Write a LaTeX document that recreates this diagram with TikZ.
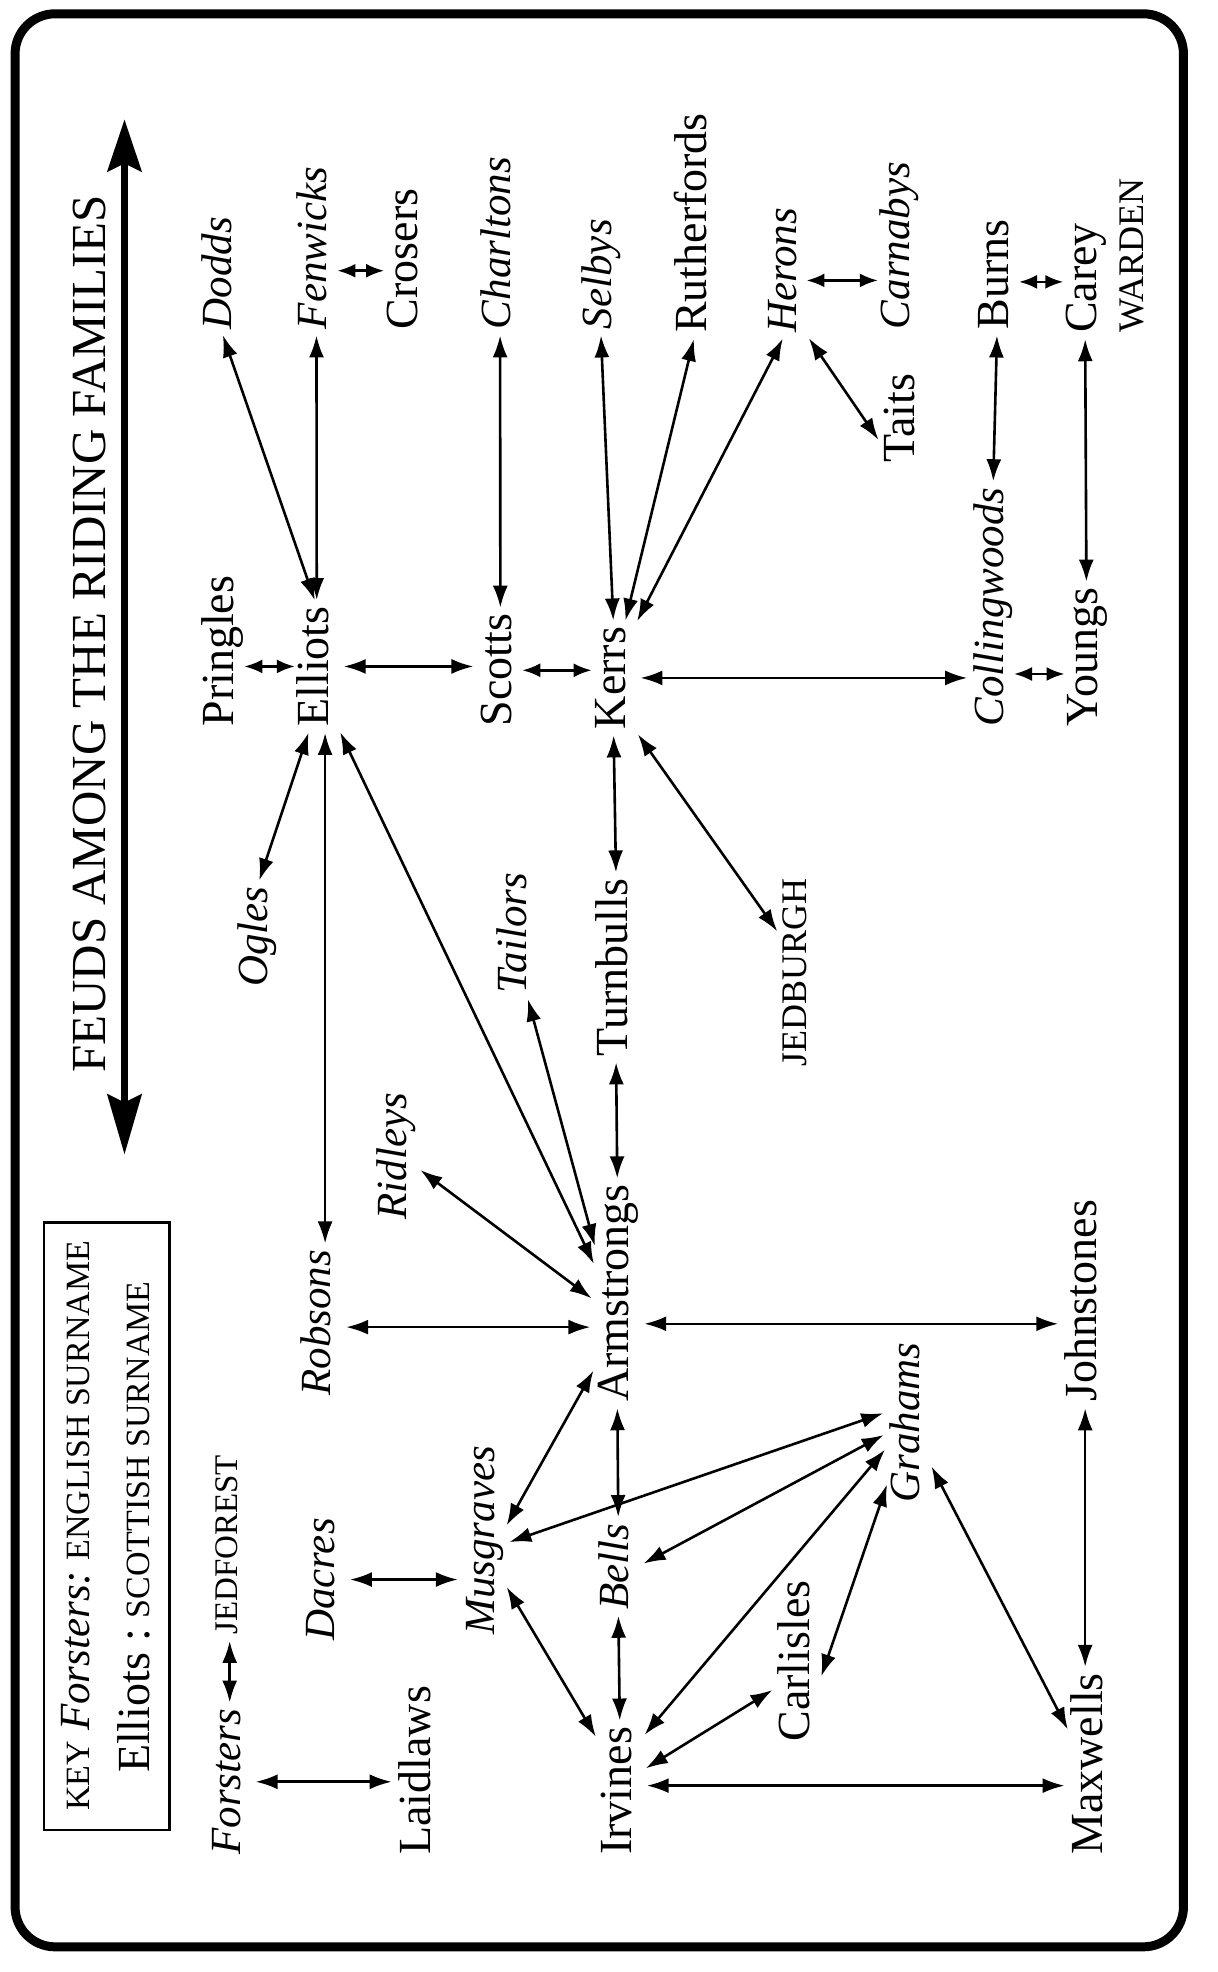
\documentclass[tikz,border=0pt]{standalone}
\usepackage{fontspec}
\setmainfont{Liberation Serif}
\usetikzlibrary{arrows.meta,calc}
\newcommand{\kcap}{\fontsize{17}{20}\selectfont}
\begin{document}
\begin{tikzpicture}[
  sco/.style={anchor=base west, inner sep=0pt, font=\fontsize{23}{26}\selectfont, text height=16pt, text depth=4.5pt},
  eng/.style={anchor=base west, inner sep=0pt, font=\fontsize{21.5}{24}\selectfont\itshape, text height=15pt, text depth=4.5pt},
  capn/.style={anchor=base west, inner sep=0pt, font=\fontsize{18}{20}\selectfont, text height=12.5pt, text depth=0pt},
  arr/.style={{Latex[length=11pt,width=7.5pt]}-{Latex[length=11pt,width=7.5pt]}, line width=1.3pt, shorten <=3pt, shorten >=3pt},
  sarr/.style={{Latex[length=9pt,width=7pt]}-{Latex[length=9pt,width=7pt]}, line width=1.3pt, shorten <=0.5pt, shorten >=0.5pt}
]
\begin{scope}[x=0.629pt, y=0.629pt, rotate=90, transform shape]
\useasboundingbox (0,0) rectangle (1568,968);
% frame
\draw[line width=4.5pt, rounded corners=20pt] (20,27) rectangle (1557,956);
% title
\node[anchor=base, inner sep=0pt, font=\fontsize{24.5}{28}\selectfont] (title) at (1064,884) {FEUDS AMONG THE RIDING FAMILIES};
\coordinate (ta) at (650,869);
\coordinate (tb) at (1473,869);
\draw[line width=3.5pt, {Stealth[length=30pt,width=17pt,inset=4pt]}-{Stealth[length=26pt,width=17pt,inset=4pt]}] (ta) -- (tb);
% key
\draw[line width=1.3pt] (113,833) rectangle (596,933);
\node[anchor=base west, inner sep=0pt] (key1) at (128,897) {{\kcap KEY}\enspace{\fontsize{21.5}{24}\selectfont\itshape Forsters:}\enspace{\kcap ENGLISH SURNAME}};
\node[anchor=base west, inner sep=0pt] (key2) at (158,849) {{\fontsize{23}{26}\selectfont Elliots :}\enspace{\kcap SCOTTISH SURNAME}};
% top row
\node[eng] (dodds) at (1306,784) {Dodds};
\node[eng] (fenwicks) at (1306,708) {Fenwicks};
\node[sco] (crosers) at (1306,636) {Crosers};
\node[eng] (charltons) at (1306,562) {Charltons};
\node[eng] (selbys) at (1306,482) {Selbys};
\node[sco] (rutherfords) at (1303,406) {Rutherfords};
\node[eng] (herons) at (1303,335) {Herons};
\node[eng] (carnabys) at (1306,245) {Carnabys};
\node[sco] (burns) at (1306,166) {Burns};
\node[sco] (carey) at (1303,96) {Carey};
\node[capn] (warden) at (1303,59) {WARDEN};
\node[sco] (taits) at (1200,241) {Taits};
% second row
\node[sco] (pringles) at (990,782) {Pringles};
\node[sco] (elliots) at (990,707) {Elliots};
\node[sco] (scotts) at (990,561) {Scotts};
\node[sco] (kerrs) at (988,471) {Kerrs};
\node[eng] (collingwoods) at (990,170) {Collingwoods};
\node[sco] (youngs) at (990,95) {Youngs};
% middle
\node[eng] (ogles) at (783,755) {Ogles};
\node[eng] (tailors) at (778,549) {Tailors};
\node[sco] (turnbulls) at (728,469) {Turnbulls};
\node[capn] (jedburgh) at (720,327) {JEDBURGH};
\node[eng] (ridleys) at (598,645) {Ridleys};
\node[sco] (armstrongs) at (453,468) {Armstrongs};
\node[eng] (robsons) at (458,705) {Robsons};
\node[sco] (johnstones) at (453,96) {Johnstones};
\node[eng] (grahams) at (373,237) {Grahams};
\node[eng] (dacres) at (263,702) {Dacres};
\node[eng] (musgraves) at (268,575) {Musgraves};
\node[eng] (bells) at (288,468) {Bells};
\node[capn, font=\fontsize{16.5}{19}\selectfont] (jedforest) at (268,779) {JEDFOREST};
\node[eng] (forsters) at (93,777) {Forsters};
\node[sco] (laidlaws) at (93,626) {Laidlaws};
\node[sco] (carlisles) at (183,324) {Carlisles};
\node[sco] (irvines) at (93,466) {Irvines};
\node[sco] (maxwells) at (93,91) {Maxwells};
% helper coordinates
\coordinate (cy) at ($(youngs.north west)!0.38!(youngs.north east)$);
\coordinate (cf) at ($(fenwicks.south west)!0.36!(fenwicks.south east)$);
\coordinate (k1) at ($(kerrs.east)!0.5!(kerrs.south east)$);
\coordinate (ch) at ($(herons.south west)!0.42!(herons.south east)$);
\coordinate (ct) at ($(taits.north west)!0.2!(taits.north east)$);
\coordinate (cb) at ($(burns.south west)!0.43!(burns.south east)$);
\coordinate (eo) at ($(elliots.west)!0.3!(elliots.north west)$);
\coordinate (er) at ($(elliots.west)!0.4!(elliots.south west)$);
\coordinate (a1) at ($(armstrongs.north west)!0.61!(armstrongs.north east)$);
\coordinate (cj) at ($(jedburgh.north west)!0.69!(jedburgh.north east)$);
\coordinate (a2) at ($(armstrongs.north west)!0.69!(armstrongs.north east)$);
\coordinate (tl) at ($(tailors.west)!0.5!(tailors.south west)$);
\coordinate (rd) at ($(ridleys.south west)!0.42!(ridleys.south east)$);
\coordinate (a3) at ($(armstrongs.north west)!0.46!(armstrongs.north east)$);
\coordinate (rb) at ($(robsons.south west)!0.47!(robsons.south east)$);
\coordinate (as) at ($(armstrongs.south west)!0.36!(armstrongs.south east)$);
\coordinate (a4) at ($(armstrongs.north west)!0.17!(armstrongs.north east)$);
\coordinate (m1) at ($(musgraves.south west)!0.55!(musgraves.south east)$);
\coordinate (m2) at ($(musgraves.south west)!0.48!(musgraves.south east)$);
\coordinate (g1) at ($(grahams.north west)!0.57!(grahams.north east)$);
\coordinate (g2) at ($(grahams.north west)!0.44!(grahams.north east)$);
\coordinate (m3) at ($(musgraves.south west)!0.28!(musgraves.south east)$);
\coordinate (i1) at ($(irvines.north west)!0.88!(irvines.north east)$);
\coordinate (i2) at ($(irvines.south west)!0.9!(irvines.south east)$);
\coordinate (g3) at ($(grahams.north west)!0.36!(grahams.north east)$);
\coordinate (i3) at ($(irvines.south west)!0.65!(irvines.south east)$);
\coordinate (c1) at ($(carlisles.north west)!0.34!(carlisles.north east)$);
\coordinate (c2) at ($(carlisles.south west)!0.37!(carlisles.south east)$);
\coordinate (g4) at ($(grahams.north west)!0.15!(grahams.north east)$);
\coordinate (i4) at ($(irvines.south west)!0.54!(irvines.south east)$);
\coordinate (g5) at ($(grahams.south west)!0.26!(grahams.south east)$);
\coordinate (x1) at ($(maxwells.north west)!0.66!(maxwells.north east)$);
% connectors
\draw[sarr] (elliots.north) -- (elliots.north |- pringles.south);
\draw[arr] (elliots.south) -- (elliots.south |- scotts.north);
\draw[sarr] (scotts.south) -- (scotts.south |- kerrs.north);
\draw[arr] (kerrs.south) -- (kerrs.south |- collingwoods.north);
\draw[sarr] (cy) -- (cy |- collingwoods.south);
\draw[arr] (elliots.east) -- (dodds.west);
\draw[arr] (elliots.east) -- (fenwicks.west);
\draw[sarr] (cf) -- (cf |- crosers.north);
\draw[arr] (scotts.east) -- (charltons.west);
\draw[arr] (kerrs.east) -- (selbys.west);
\draw[arr] (k1) -- (rutherfords.west);
\draw[arr] (kerrs.south east) -- (herons.west);
\draw[sarr] (ch) -- (ch |- carnabys.north);
\draw[arr] (herons.south west) -- (ct);
\draw[arr] (burns.west) -- (collingwoods.east);
\draw[sarr] (cb) -- (cb |- carey.north);
\draw[arr] (carey.west) -- (youngs.east);
\draw[arr] (eo) -- (ogles.east);
\draw[arr] (er) -- (robsons.east |- er);
\draw[arr] (elliots.south west) -- (a1);
\draw[arr] (kerrs.west) -- (turnbulls.east);
\draw[arr] (kerrs.south west) -- (cj);
\draw[arr] (turnbulls.west) -- (armstrongs.east);
\draw[arr] (tl) -- (a2);
\draw[arr] (rd) -- (a3);
\draw[arr] (rb) -- (rb |- armstrongs.north);
\draw[arr] (as) -- (as |- johnstones.north);
\draw[arr] (a4) -- (m1);
\draw[arr] (armstrongs.west) -- (bells.east);
\draw[arr] (m2) -- (g1);
\draw[arr] (bells.south) -- (g2);
\draw[arr] (dacres.south) -- (dacres.south |- musgraves.north);
\draw[arr] (m3) -- (i1);
\draw[arr] (bells.west) -- (irvines.east);
\draw[arr] (i2) -- (g3);
\draw[arr] (i3) -- (c1);
\draw[arr] (c2) -- (g4);
\draw[arr] (i4) -- (i4 |- maxwells.north);
\draw[arr] (g5) -- (x1);
\draw[arr] (johnstones.west) -- (maxwells.east |- johnstones.west);
\draw[arr] (forsters.east) -- (jedforest.west |- forsters.east);
\draw[arr] (forsters.south) -- (forsters.south |- laidlaws.north);
\end{scope}
\end{tikzpicture}
\end{document}
